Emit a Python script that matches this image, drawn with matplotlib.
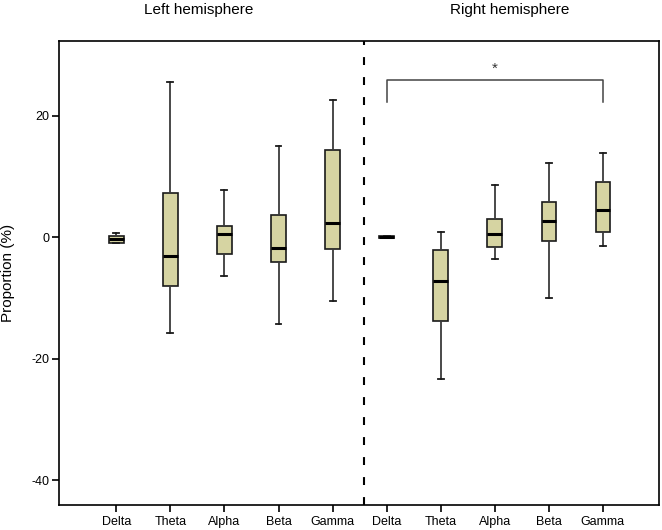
import matplotlib
matplotlib.use("Agg")
import matplotlib.pyplot as plt

plt.rcParams['font.family'] = ['Liberation Sans', 'DejaVu Sans']

categories = ["Delta", "Theta", "Alpha", "Beta", "Gamma",
              "Delta", "Theta", "Alpha", "Beta", "Gamma"]
whislo = [-0.9, -15.8, -6.4, -14.3, -10.5, -0.2, -23.4, -3.6, -10.0, -1.5]
q1     = [-0.9,  -8.1, -2.8,  -4.1,  -1.9, -0.15, -13.8, -1.6, -0.7,  0.9]
med    = [-0.3,  -3.1,  0.5,  -1.8,   2.4,  0.0,  -7.3,  0.5,  2.7,  4.4]
q3     = [ 0.1,   7.3,  1.9,   3.7,  14.4,  0.15, -2.2,  2.9,  5.8,  9.0]
whishi = [ 0.7,  25.6,  7.8,  15.0,  22.5,  0.2,   0.9,  8.6, 12.2, 13.9]
hemispheres = ["Left hemisphere", "Right hemisphere"]
yticks = [20, 0, -20, -40]
ytick_labels = ["20", "0", "-20", "-40"]
bracket_from, bracket_to = 6, 10
bracket_top, bracket_bottom = 25.8, 22.3

fig = plt.figure(figsize=(6.62, 5.30), dpi=100)
ax = fig.add_axes([0.089, 0.047, 0.907, 0.876])

stats = []
for i in range(len(categories)):
    stats.append(dict(whislo=whislo[i], q1=q1[i], med=med[i], q3=q3[i],
                      whishi=whishi[i], fliers=[], label=categories[i]))
positions = list(range(1, len(categories) + 1))
ax.bxp(stats, positions=positions, widths=0.27, patch_artist=True,
       showfliers=False,
       boxprops=dict(facecolor="#d6d4a2", edgecolor="#1a1a1a", linewidth=1.2),
       medianprops=dict(color="black", linewidth=2.2),
       whiskerprops=dict(color="#3a3a3a", linewidth=1.3),
       capprops=dict(color="#1a1a1a", linewidth=1.3),
       capwidths=0.11)

ax.axvline(5.573, color="black", linewidth=1.5, linestyle=(0, (3.8, 5.8)))

ax.plot([bracket_from, bracket_from, bracket_to, bracket_to],
        [bracket_bottom, bracket_top, bracket_top, bracket_bottom],
        color="#444444", linewidth=1.1)
ax.text((bracket_from + bracket_to) / 2, 27.7, "*", ha="center", va="center",
        fontsize=11, color="#333333")

ax.set_xlim(-0.062, 11.045)
ax.set_ylim(-44.1, 32.3)
ax.set_xticks(positions)
ax.set_xticklabels(categories, fontsize=9)
ax.set_yticks(yticks)
ax.set_yticklabels(ytick_labels, fontsize=9)
ax.tick_params(axis="both", direction="out", length=5, width=1.2, colors="black")
ax.tick_params(axis="x", pad=3)
ax.tick_params(axis="y", pad=2)
for s in ax.spines.values():
    s.set_linewidth(1.2)
ax.set_ylabel("Proportion (%)", fontsize=11)
ax.yaxis.set_label_coords(-0.073, 0.5)

fig.text(0.30, 0.981, hemispheres[0], ha="center", va="center", fontsize=11)
fig.text(0.77, 0.981, hemispheres[1], ha="center", va="center", fontsize=11)

fig.savefig("out.png", dpi=100)
